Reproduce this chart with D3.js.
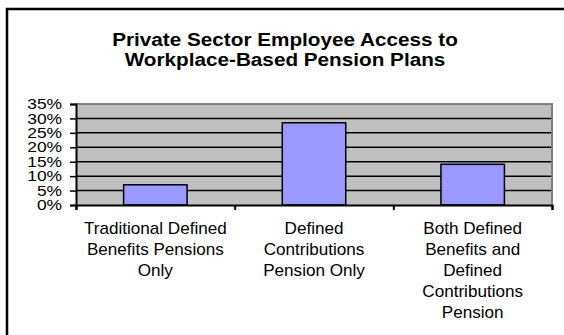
<!DOCTYPE html>
<html>
<head>
<meta charset="utf-8">
<script src="https://cdn.jsdelivr.net/npm/d3@7"></script>
<style>
  body { margin: 0; background: #fff; }
  svg { display: block; font-family: "Liberation Sans", Arial, sans-serif; }
</style>
</head>
<body>
<div class="chart"></div>
<script>
// categories and values (percent of private sector employees)
const categories = [
  ['Traditional Defined', 'Benefits Pensions', 'Only'],
  ['Defined', 'Contributions', 'Pension Only'],
  ['Both Defined', 'Benefits and', 'Defined', 'Contributions', 'Pension'],
];
const values = [7, 28.5, 14.1];
const yTicks = [0, 5, 10, 15, 20, 25, 30, 35];
const titleLines = ['Private Sector Employee Access to', 'Workplace-Based Pension Plans'];

const W = 564, H = 335;
const margin = { top: 104, right: 12, bottom: 130, left: 76 };
const width = W - margin.left - margin.right,
  height = H - margin.top - margin.bottom;

const svg = d3.select('.chart').append('svg')
  .attr('width', W)
  .attr('height', H);

// outer frame (runs off right and bottom edges)
svg.append('rect')
  .attr('x', 7).attr('y', 9)
  .attr('width', W + 10).attr('height', H + 10)
  .attr('fill', '#fff')
  .attr('stroke', '#000')
  .attr('stroke-width', 2.5);

// title (glyphs are a bit wide in the original, so stretch horizontally)
svg.append('g')
  .attr('transform', 'translate(285,0) scale(1.12,1)')
  .append('text')
  .attr('text-anchor', 'middle')
  .attr('font-weight', 'bold')
  .attr('font-size', 18.5)
  .selectAll('tspan')
  .data(titleLines)
  .enter()
  .append('tspan')
  .attr('x', 0)
  .attr('y', (d, i) => 46 + i * 20)
  .text(d => d);

const g = svg.append('g')
  .attr('transform', 'translate(' + margin.left + ',' + margin.top + ')');

const x = d3.scaleBand()
  .range([0, width])
  .domain(d3.range(categories.length));

const y = d3.scaleLinear()
  .range([height, 0])
  .domain([0, 35]);

// plot area
g.append('rect')
  .attr('width', width)
  .attr('height', height)
  .attr('fill', '#c0c0c0');

// gridlines
g.selectAll('.grid')
  .data(yTicks.slice(1, -1))
  .enter()
  .append('line')
  .attr('x1', 0).attr('x2', width)
  .attr('y1', d => y(d)).attr('y2', d => y(d))
  .attr('stroke', '#000')
  .attr('stroke-width', 1.5);

// top and right border
g.append('path')
  .attr('d', 'M0,' + y(35) + 'H' + width + 'V' + height)
  .attr('fill', 'none')
  .attr('stroke', '#808080')
  .attr('stroke-width', 2);

// bars
const barW = x.bandwidth() * 0.4;
g.selectAll('.bar')
  .data(values)
  .enter()
  .append('rect')
  .attr('class', 'bar')
  .attr('x', (d, i) => x(i) + (x.bandwidth() - barW) / 2)
  .attr('y', d => y(d))
  .attr('width', barW)
  .attr('height', d => height - y(d))
  .attr('fill', '#9999ff')
  .attr('stroke', '#000')
  .attr('stroke-width', 1.5);

// y axis
const yAxis = g.append('g')
  .call(d3.axisLeft(y).tickValues(yTicks).tickSize(6).tickPadding(0).tickFormat(d => d + '%'));
yAxis.select('.domain').attr('stroke-width', 2);
yAxis.selectAll('.tick line').attr('stroke-width', 1.5);
yAxis.selectAll('.tick text')
  .attr('font-size', 14.5)
  .attr('font-family', '"Liberation Sans", Arial, sans-serif')
  .attr('fill', '#000')
  .attr('x', -14 / 1.2)
  .attr('transform', 'scale(1.2,1)');

// x axis: ticks at category boundaries
const xb = d3.scaleLinear().domain([0, categories.length]).range([0, width]);
const xAxis = g.append('g')
  .attr('transform', 'translate(0,' + height + ')')
  .call(d3.axisBottom(xb).tickValues(d3.range(categories.length + 1)).tickSize(5).tickFormat(''));
xAxis.select('.domain').attr('stroke-width', 2);
xAxis.selectAll('.tick line').attr('stroke-width', 2);

// category labels
g.selectAll('.cat')
  .data(categories)
  .enter()
  .append('g')
  .attr('class', 'cat')
  .attr('transform', (d, i) => 'translate(' + (x(i) + x.bandwidth() / 2) + ',0) scale(1.07,1)')
  .append('text')
  .attr('text-anchor', 'middle')
  .attr('font-size', 16)
  .attr('fill', '#000')
  .each(function (lines) {
    d3.select(this).selectAll('tspan')
      .data(lines)
      .enter()
      .append('tspan')
      .attr('x', 0)
      .attr('y', (d, j) => height + 29 + j * 21)
      .text(d => d);
  });
</script>
</body>
</html>
